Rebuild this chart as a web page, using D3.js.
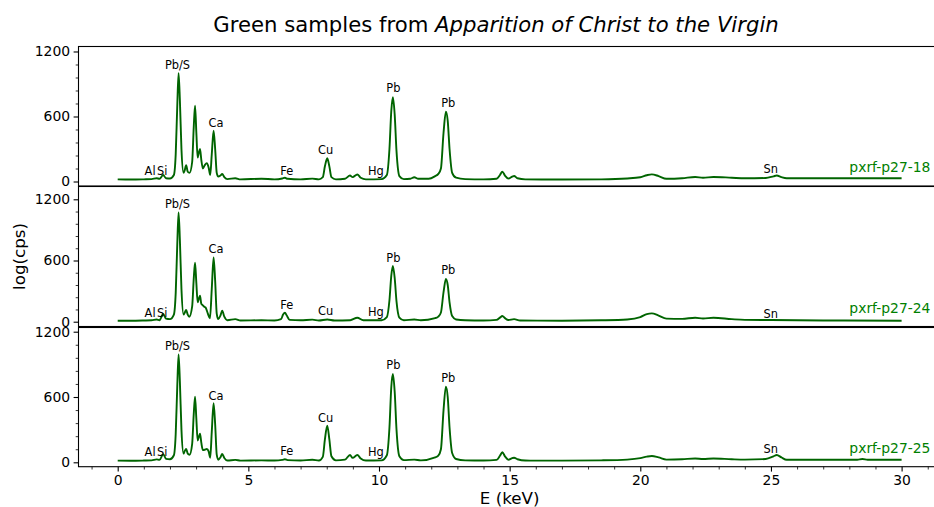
<!DOCTYPE html>
<html>
<head>
<meta charset="utf-8">
<script src="https://cdn.jsdelivr.net/npm/d3@7"></script>
<style>
  body { margin: 0; background: #fff; overflow: hidden; }
  svg { font-family: "DejaVu Sans", sans-serif; display: block; }
</style>
</head>
<body>
<script>
// sample names, one per panel
var samples = ["pxrf-p27-18", "pxrf-p27-24", "pxrf-p27-25"];

// spectra: [E (keV), counts]
var spec18 = [[0,20],[0.5,18],[1.0,20],[1.3,22],[1.49,30],[1.6,25],[1.74,60],[1.85,30],[2.0,28],[2.15,60],[2.22,250],[2.28,700],[2.33,1000],[2.38,750],[2.44,300],[2.52,80],[2.56,100],[2.62,150],[2.68,90],[2.75,80],[2.85,180],[2.91,500],[2.96,700],[3.01,450],[3.06,220],[3.1,260],[3.15,300],[3.2,200],[3.26,120],[3.33,150],[3.41,170],[3.48,130],[3.54,60],[3.6,250],[3.67,470],[3.73,300],[3.79,80],[3.85,45],[3.93,55],[4.0,70],[4.08,40],[4.2,22],[4.5,30],[4.7,20],[5.5,25],[6.0,20],[6.3,28],[6.4,34],[6.5,25],[7.0,20],[7.45,27],[7.7,20],[7.85,40],[7.93,140],[8.02,214],[8.1,140],[8.18,40],[8.35,20],[8.7,25],[8.89,55],[8.99,40],[9.17,65],[9.3,35],[9.5,20],[10.1,22],[10.3,60],[10.4,300],[10.47,650],[10.53,777],[10.6,620],[10.67,280],[10.78,50],[10.95,22],[11.2,25],[11.35,39],[11.5,25],[11.9,25],[12.15,50],[12.27,70],[12.37,120],[12.47,450],[12.56,644],[12.63,560],[12.7,300],[12.8,80],[12.95,35],[13.3,22],[14.0,20],[14.5,25],[14.63,60],[14.72,91],[14.82,55],[14.95,27],[15.1,45],[15.17,51],[15.3,30],[15.6,20],[17,18],[18.5,20],[19.5,28],[20.0,39],[20.25,58],[20.44,66],[20.7,50],[21.0,25],[21.6,30],[22.1,42],[22.4,35],[22.8,42],[23.5,35],[24.0,30],[24.8,32],[25.1,48],[25.22,55],[25.4,40],[25.6,30],[27,30],[30,30]];
var spec24 = [[0,10],[0.5,10],[1.0,12],[1.3,14],[1.49,22],[1.6,15],[1.74,75],[1.85,30],[2.0,25],[2.15,70],[2.22,280],[2.28,760],[2.33,1072],[2.38,800],[2.44,320],[2.52,70],[2.56,85],[2.62,115],[2.68,70],[2.74,49],[2.85,150],[2.91,420],[2.96,578],[3.01,380],[3.06,190],[3.1,220],[3.15,255],[3.2,175],[3.24,165],[3.3,150],[3.36,140],[3.45,80],[3.53,33],[3.6,320],[3.67,631],[3.73,400],[3.79,80],[3.85,25],[3.93,60],[4.0,108],[4.08,50],[4.2,15],[4.5,25],[4.7,12],[5.5,14],[6.0,12],[6.25,25],[6.33,70],[6.4,88],[6.47,60],[6.58,18],[7.0,14],[7.45,20],[7.7,12],[8.02,22],[8.3,12],[8.9,15],[9.17,39],[9.4,14],[10.1,14],[10.3,45],[10.4,210],[10.47,450],[10.53,546],[10.6,430],[10.67,200],[10.78,40],[10.95,14],[11.35,22],[11.6,14],[12.15,35],[12.27,50],[12.37,90],[12.47,290],[12.56,419],[12.63,360],[12.7,190],[12.8,55],[12.95,22],[13.3,14],[14.0,12],[14.5,18],[14.63,40],[14.72,56],[14.82,35],[14.95,16],[15.17,25],[15.4,12],[17,10],[18.5,14],[19.5,22],[20.0,45],[20.25,75],[20.44,82],[20.7,60],[21.0,30],[21.6,28],[22.1,39],[22.4,32],[22.8,39],[23.5,25],[24.0,18],[25,16],[27,12],[30,10]];
var spec25 = [[0,15],[0.5,14],[1.0,16],[1.3,18],[1.49,27],[1.6,22],[1.74,75],[1.85,32],[2.0,28],[2.15,65],[2.22,260],[2.28,700],[2.33,992],[2.38,740],[2.44,300],[2.52,80],[2.56,100],[2.62,122],[2.68,80],[2.75,70],[2.85,170],[2.91,440],[2.96,603],[3.01,400],[3.06,200],[3.1,230],[3.15,263],[3.2,180],[3.26,113],[3.33,115],[3.41,122],[3.48,100],[3.54,42],[3.6,280],[3.67,542],[3.73,350],[3.79,70],[3.85,24],[3.93,45],[4.0,76],[4.08,40],[4.2,16],[4.5,22],[4.7,15],[5.5,18],[6.0,16],[6.3,22],[6.4,28],[6.5,20],[7.0,16],[7.45,24],[7.7,16],[7.85,50],[7.93,210],[8.02,336],[8.1,210],[8.18,55],[8.35,18],[8.7,25],[8.89,67],[8.99,41],[9.17,67],[9.3,35],[9.5,16],[10.1,18],[10.3,65],[10.4,320],[10.47,690],[10.53,811],[10.6,650],[10.67,300],[10.78,55],[10.95,20],[11.35,25],[11.6,18],[12.15,45],[12.27,61],[12.37,120],[12.47,480],[12.56,695],[12.63,600],[12.7,320],[12.8,85],[12.95,30],[13.3,18],[14.0,16],[14.5,22],[14.63,60],[14.72,92],[14.82,55],[14.95,24],[15.1,38],[15.17,42],[15.3,28],[15.6,16],[17,15],[18.5,18],[19.5,25],[20.0,38],[20.25,52],[20.44,58],[20.7,45],[21.0,25],[21.6,28],[22.1,35],[22.4,30],[22.8,35],[23.5,28],[24.0,25],[24.8,30],[25.1,55],[25.22,67],[25.4,45],[25.6,23],[27,23],[28.3,24],[28.5,30],[28.7,24],[30,23]];
var spectra = [spec18, spec24, spec25];

// peak labels: element, energy of label, height of label
var peakNames = ["Al", "Si", "Pb/S", "Ca", "Fe", "Cu", "Hg", "Pb", "Pb", "Sn"];
var peakE = [1.24, 1.70, 2.29, 3.76, 6.47, 7.96, 9.88, 10.55, 12.65, 24.99];
var peakY18 = [60, 60, 1038, 500, 60, 254, 60, 823, 685, 76];
var peakY24 = [49, 49, 1112, 670, 125, 66, 56, 590, 467, 39];
var peakY25 = [58, 58, 1032, 572, 67, 373, 58, 857, 741, 83];
var peakYs = [peakY18, peakY24, peakY25];

// axis ticks
var yTicks = [0, 600, 1200];
var xTicks = [0, 5, 10, 15, 20, 25, 30];

var width = 934, height = 507;
var left = 78.5, right = 940.8;
var panels = [
    {top: 46.5, bottom: 186, dom: [-41.5, 1246]},
    {top: 186.5, bottom: 326.5, dom: [-47, 1325.5]},
    {top: 327.5, bottom: 466.7, dom: [-40.4, 1238.6]}
];

var svg = d3.select("body").append("svg")
    .attr("width", width)
    .attr("height", height);

var x = d3.scaleLinear().domain([-1.5, 31.5]).range([left, right]);

var xMinor = d3.range(-1, 32).filter(function(d){ return d % 5 != 0; });
var yMinor = d3.range(0, 1201, 120).filter(function(d){ return d % 600 != 0; });

var line = d3.line().curve(d3.curveMonotoneX);

panels.forEach(function(p, i){
    var y = d3.scaleLinear().domain(p.dom).range([p.bottom, p.top]);
    var g = svg.append("g").attr("class", "panel");

    g.append("rect")
        .attr("x", left).attr("y", p.top)
        .attr("width", right - left).attr("height", p.bottom - p.top)
        .attr("fill", "#fff");

    // bottom ticks (top panel's are hidden by the panel below)
    if (i > 0) {
        var xa = g.append("g").attr("transform", "translate(0," + p.bottom + ")")
            .call(d3.axisBottom(x).tickValues(xTicks).tickSize(4.9).tickPadding(3.5)
                .tickFormat(i == 2 ? d3.format("d") : ""));
        xa.select(".domain").remove();
        xa.selectAll("text").attr("font-size", 13.9).attr("fill", "#000")
            .attr("font-family", "DejaVu Sans");
        xa.selectAll("line").attr("stroke-width", 1.1);
        var xm = g.append("g").attr("transform", "translate(0," + p.bottom + ")")
            .call(d3.axisBottom(x).tickValues(xMinor).tickSize(2.8).tickFormat(""));
        xm.select(".domain").remove();
        xm.selectAll("line").attr("stroke-width", 0.8);
    }

    var ya = g.append("g").attr("transform", "translate(" + left + ",0)")
        .call(d3.axisLeft(y).tickValues(yTicks).tickSize(4.9).tickPadding(3.5)
            .tickFormat(d3.format("d")));
    ya.select(".domain").remove();
    ya.selectAll("text").attr("font-size", 13.9).attr("fill", "#000")
        .attr("font-family", "DejaVu Sans");
    ya.selectAll("line").attr("stroke-width", 1.1);
    var ym = g.append("g").attr("transform", "translate(" + left + ",0)")
        .call(d3.axisLeft(y).tickValues(yMinor).tickSize(2.8).tickFormat(""));
    ym.select(".domain").remove();
    ym.selectAll("line").attr("stroke-width", 0.8);

    // spectrum
    line.x(function(d){ return x(d[0]); }).y(function(d){ return y(d[1]); });
    g.append("path")
        .datum(spectra[i])
        .attr("d", line)
        .attr("fill", "none")
        .attr("stroke", "darkgreen")
        .attr("stroke-width", 1.9)
        .attr("stroke-linejoin", "round");

    // peak labels
    g.selectAll(".peak")
        .data(peakNames)
        .enter()
        .append("text")
        .attr("class", "peak")
        .attr("x", function(d, j){ return x(peakE[j]); })
        .attr("y", function(d, j){ return y(peakYs[i][j]); })
        .attr("text-anchor", "middle")
        .attr("font-size", 11.4)
        .attr("fill", "#000")
        .text(function(d){ return d; });

    // sample name
    g.append("text")
        .attr("x", x(28)).attr("y", y(85))
        .attr("font-size", 13.9)
        .attr("fill", "green")
        .text(samples[i]);

    // frame
    g.append("rect")
        .attr("x", left).attr("y", p.top)
        .attr("width", right - left).attr("height", p.bottom - p.top)
        .attr("fill", "none")
        .attr("stroke", "#000")
        .attr("stroke-width", 1.1);
});

// title
var title = svg.append("text")
    .attr("x", 496).attr("y", 32)
    .attr("text-anchor", "middle")
    .attr("font-size", 21.2)
    .attr("fill", "#000");
title.append("tspan").text("Green samples from ");
title.append("tspan").attr("font-style", "italic").text("Apparition of Christ to the Virgin");

// axis labels
svg.append("text")
    .attr("x", x(15)).attr("y", 504)
    .attr("text-anchor", "middle")
    .attr("font-size", 16.7)
    .text("E (keV)");

svg.append("text")
    .attr("transform", "translate(25," + ((panels[1].top + panels[1].bottom) / 2) + ") rotate(-90)")
    .attr("text-anchor", "middle")
    .attr("font-size", 16.7)
    .text("log(cps)");
</script>
</body>
</html>
